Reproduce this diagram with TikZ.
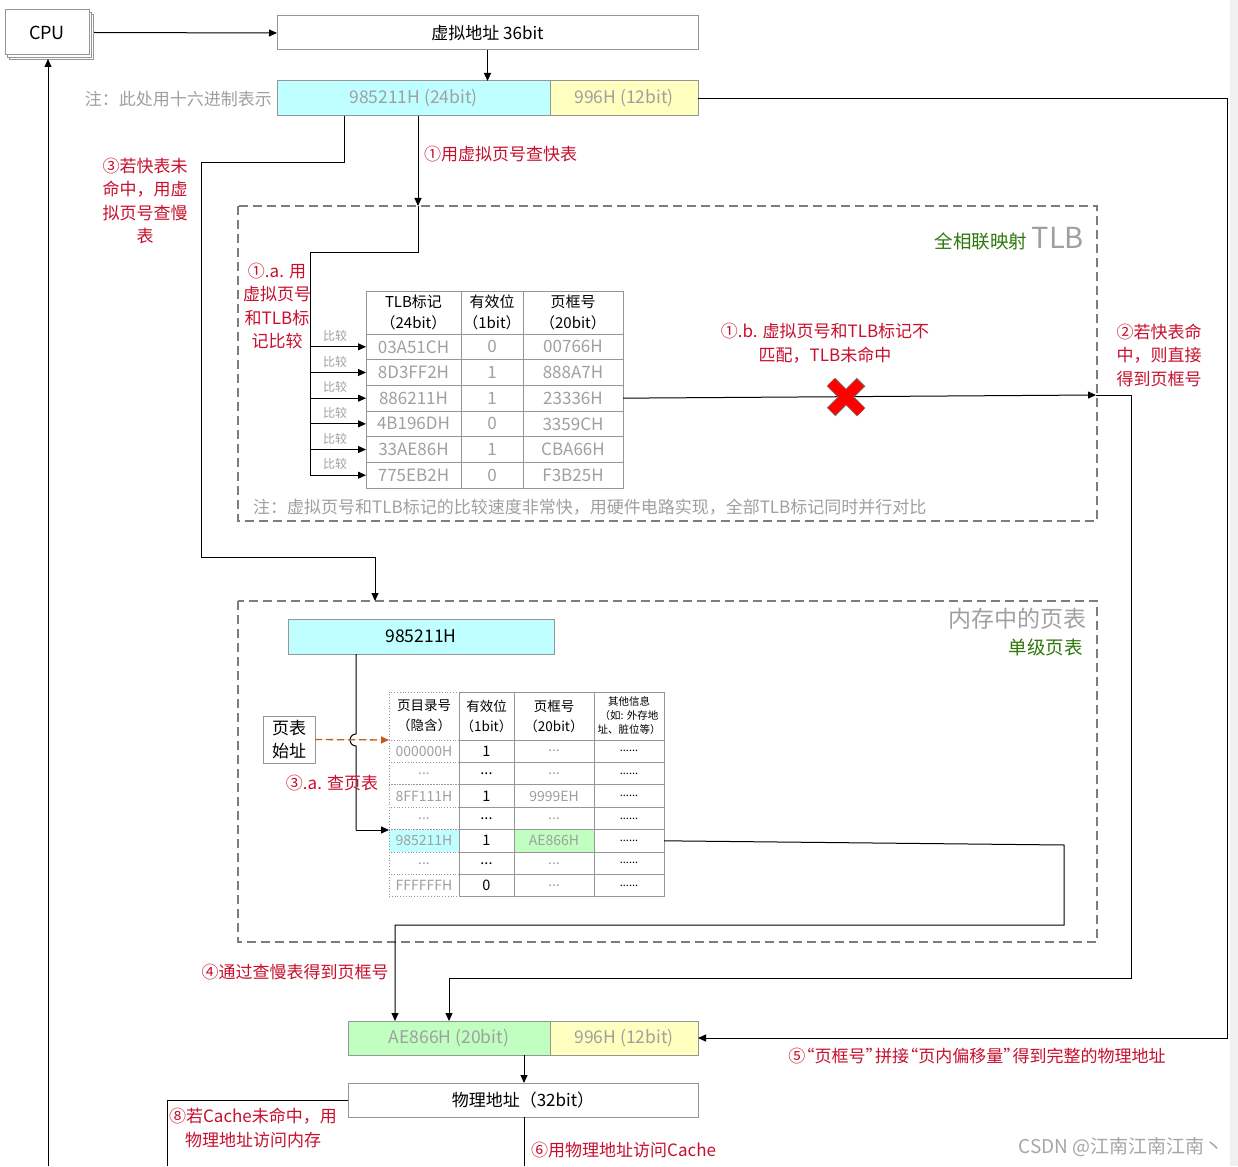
\documentclass[tikz,border=0pt]{standalone}
\usepackage{fontspec}
\setmainfont{Noto Sans CJK SC}
\usetikzlibrary{arrows.meta,calc}
\definecolor{redt}{RGB}{200,16,46}
\definecolor{greent}{RGB}{45,120,10}
\definecolor{grayt}{RGB}{160,160,160}
\definecolor{cyanf}{RGB}{192,255,255}
\definecolor{yellowf}{RGB}{255,255,192}
\definecolor{greenf}{RGB}{192,255,192}
\definecolor{borderg}{RGB}{150,150,150}
\definecolor{dashg}{RGB}{125,125,125}
\definecolor{orangea}{RGB}{200,90,30}
\definecolor{bandg}{RGB}{240,240,240}
\newcommand{\pdots}{...}
\newcommand{\fs}[1]{\fontsize{#1}{#1}\selectfont}
\newcommand{\oqt}{\kern-.45em“}
\newcommand{\cqt}{”\kern-.45em}
\begin{document}
\begin{tikzpicture}[x=1pt,y=-1pt,
  box/.style={draw=borderg, line width=1pt, inner sep=0pt, outer sep=0pt, font=\fs{17}},
  cell/.style={draw=borderg, line width=0.8pt, inner sep=0pt, outer sep=0pt, align=center, text=grayt},
  dcell/.style={draw=borderg, line width=0.8pt, dotted, inner sep=0pt, outer sep=0pt, align=center, text=grayt},
  arr/.style={-{Triangle[length=8pt,width=7pt]}, line width=1pt},
  ln/.style={line width=1pt},
  lbl/.style={text=redt, font=\fontsize{17}{23.5}\selectfont, align=center, inner sep=0pt},
  note/.style={text=grayt, font=\fs{17}, inner sep=0pt},
  dashbox/.style={draw=dashg, line width=1.8pt, dash pattern=on 9pt off 5pt},
  cmp/.style={text=grayt, font=\fs{12}, inner sep=0pt}]
\useasboundingbox (0,0) rectangle (1238,1166);
\fill[white] (0,0) rectangle (1238,1166);
\fill[bandg] (1230,0) rectangle (1238,1166);

% dashed group boxes
\draw[dashbox] (238,206) rectangle (1097,521);
\draw[dashbox] (238,601) rectangle (1097,942);

% CPU
\draw[draw=borderg, fill=white, line width=0.8pt] (9,14) rectangle (93,59);
\draw[draw=borderg, fill=white, line width=0.8pt] (7,12) rectangle (91,57);
\node[box, fill=white, font=\fs{18}, minimum width=84pt, minimum height=45pt] (cpu) at (47,32.5) {CPU};

% virtual address
\node[box, minimum width=421pt, minimum height=34pt] (va) at (487.5,33) {虚拟地址 36bit};
\node[box, fill=cyanf, text=grayt, font=\fs{17.5}, minimum width=273pt, minimum height=35pt] (vpn) at (413.5,98.5) {985211H (24bit)};
\node[box, fill=yellowf, text=grayt, font=\fs{17.5}, minimum width=148pt, minimum height=35pt] (voff) at (624,98.5) {996H (12bit)};
\node[note, anchor=east] (hexnote) at (272,99) {注：此处用十六进制表示};

\draw[arr] ($(cpu.east)+(5,0)$) -- (va.west);
\coordinate (cpubot) at (48,1166);
\draw[arr, shorten >=4pt] (cpubot) -- (cpubot |- cpu.south);
\draw[arr] (va.south) -- (va.south |- vpn.north);

% step 1: to TLB
\coordinate (s1a) at (418,116);
\coordinate (s1b) at (418,206);
\draw[arr] (s1a) -- (s1b);
\draw[ln] (s1b) -- (418,252) -- (310,252) -- (310,475.2);
\node[lbl, anchor=west] at (424,154) {①用虚拟页号查快表};

% TLB title
\node[inner sep=0pt, anchor=base east, text=grayt, font=\fs{29}] (tlbt) at (1084,248) {TLB};
\node[inner sep=0pt, anchor=base east, text=greent, font=\fs{18.5}] (tlbg) at ($(tlbt.base west)+(-4,0)$) {全相联映射};

% TLB table header
\node[cell, text=black, font=\fontsize{15}{21}\selectfont, minimum width=95pt, minimum height=43pt] (th1) at (413.5,312.5) {TLB标记\\（24bit）};
\node[cell, text=black, font=\fontsize{15}{21}\selectfont, minimum width=62pt, minimum height=43pt] (th2) at (492,312.5) {有效位\\（1bit）};
\node[cell, text=black, font=\fontsize{15}{21}\selectfont, minimum width=100pt, minimum height=43pt] (th3) at (573,312.5) {页框号\\（20bit）};
\foreach \i/\a/\b/\c in {1/03A51CH/0/00766H, 2/8D3FF2H/1/888A7H, 3/886211H/1/23336H, 4/4B196DH/0/3359CH, 5/33AE86H/1/CBA66H, 6/775EB2H/0/F3B25H}{
  \pgfmathsetmacro\yc{334+25.67*(\i-0.5)}
  \node[cell, font=\fs{17}, minimum width=95pt, minimum height=25.67pt] (ta\i) at (413.5,\yc) {\a};
  \node[cell, font=\fs{17}, minimum width=62pt, minimum height=25.67pt] (tb\i) at (492,\yc) {\b};
  \node[cell, font=\fs{17}, minimum width=100pt, minimum height=25.67pt] (tc\i) at (573,\yc) {\c};
  \draw[arr] (310,\yc) -- (ta\i.west);
  \node[cmp] at (335,\yc-11) {比较};
}
\node[lbl] at (277,306) {①.a. 用\\虚拟页号\\和TLB标\\记比较};
\node[note, anchor=west] at (253,507) {注：虚拟页号和TLB标记的比较速度非常快，用硬件电路实现，全部TLB标记同时并行对比};

% TLB miss line
\coordinate (tlbout) at (1096,395);
\draw[arr] (tc3.east) -- (tlbout);
\node[lbl] at (825,343) {①.b. 虚拟页号和TLB标记不\\匹配，TLB未命中};
\draw[line width=12pt, draw=black!55] (831,382) -- (861,412) (861,382) -- (831,412);
\draw[line width=10pt, draw=red, shorten <=1pt, shorten >=1pt] (831,382) -- (861,412) (861,382) -- (831,412);

% step 2: TLB hit
\coordinate (pfnin2) at (449,1021);
\draw[arr] (tlbout) -- (1131,395) -- (1131,978) -- (449,978) -- (pfnin2);
\node[lbl] at (1159,355) {②若快表命\\中，则直接\\得到页框号};

% step 3: page table
\coordinate (s3a) at (344,116);
\coordinate (s3b) at (375,601);
\draw[arr] (s3a) -- (344,163) -- (201,163) -- (201,557) -- (375,557) -- (s3b);
\node[lbl] at (145,201) {③若快表未\\命中，用虚\\拟页号查慢\\表};

\node[inner sep=0pt, anchor=east, text=grayt, font=\fs{23}] (ptt) at (1087,619) {内存中的页表};
\node[inner sep=0pt, anchor=east, text=greent, font=\fs{18.5}] (ptg) at (1083,647) {单级页表};

\node[box, fill=cyanf, font=\fs{17.5}, minimum width=266pt, minimum height=35pt] (pvpn) at (421,636.5) {985211H};
\node[box, align=center, font=\fontsize{17}{23}\selectfont, minimum width=52pt, minimum height=47pt] (ptbase) at (289,739.5) {页表\\始址};

% page table header
\node[dcell, text=black, font=\fontsize{13.5}{20}\selectfont, minimum width=70pt, minimum height=48pt] (ph1) at (424,716) {页目录号\\（隐含）};
\node[cell, text=black, font=\fontsize{13.5}{20}\selectfont, minimum width=55pt, minimum height=48pt] (ph2) at (486.5,716) {有效位\\（1bit）};
\node[cell, text=black, font=\fontsize{13.5}{20}\selectfont, minimum width=80pt, minimum height=48pt] (ph3) at (554,716) {页框号\\（20bit）};
\node[cell, text=black, font=\fontsize{10.5}{14}\selectfont, minimum width=70pt, minimum height=48pt] (ph4) at (629,716) {其他信息\\（如: 外存地\\址、脏位等）};
\foreach \i/\a/\b/\c/\fa/\fc in {1/000000H/1/\pdots/white/white, 2/\pdots/\pdots/\pdots/white/white, 3/8FF111H/1/9999EH/white/white, 4/\pdots/\pdots/\pdots/white/white, 5/985211H/1/AE866H/cyanf/greenf, 6/\pdots/\pdots/\pdots/white/white, 7/FFFFFFH/0/\pdots/white/white}{
  \pgfmathsetmacro\yc{740+22.4*(\i-0.5)}
  \node[dcell, fill=\fa, font=\fs{14}, minimum width=70pt, minimum height=22.4pt] (pa\i) at (424,\yc) {\a};
  \node[cell, text=black, font=\fs{14.5}, minimum width=55pt, minimum height=22.4pt] (pb\i) at (486.5,\yc) {\b};
  \node[cell, fill=\fc, font=\fs{14}, minimum width=80pt, minimum height=22.4pt] (pc\i) at (554,\yc) {\c};
  \node[cell, text=black, font=\fs{11}, minimum width=70pt, minimum height=22.4pt] (pd\i) at (629,\yc) {......};
}
% redraw highlighted cell on top
\node[cell, fill=greenf, font=\fs{14}, minimum width=80pt, minimum height=22.4pt] at (pc5) {AE866H};

% lookup arrow with hop
\coordinate (hop) at (356,740);
\draw[ln] (pvpn.south -| hop) -- ($(hop)+(0,-6)$) arc[start angle=-90, end angle=-270, radius=6] -- (356,830);
\draw[arr] (356,830) -- (389,830);
\draw[-{Triangle[length=8pt,width=7pt]}, draw=orangea, fill=orangea, line width=1.3pt, dash pattern=on 7pt off 4pt] (ptbase.east) -- (389,740);
\node[lbl] at (332,783) {③.a. 查页表};

% step 4
\coordinate (pfnin4) at (395,1021);
\draw[arr] (pd5.east) -- (1064,845) -- (1064,925) -- (395,925) -- (pfnin4);
\node[lbl] at (295,972) {④通过查慢表得到页框号};

% physical address
\node[box, fill=greenf, text=grayt, font=\fs{17.5}, minimum width=202pt, minimum height=34pt] (ppfn) at (449,1038) {AE866H (20bit)};
\node[box, fill=yellowf, text=grayt, font=\fs{17.5}, minimum width=148pt, minimum height=34pt] (poff) at (624,1038) {996H (12bit)};
\node[box, minimum width=350pt, minimum height=34pt] (pa) at (523,1100) {物理地址（32bit）};

% step 5: offset
\draw[arr] (voff.east) -- (1227,98.5) -- (1227,1038) -- (poff.east);
\node[lbl] at (977,1056) {⑤\oqt 页框号\cqt 拼接\oqt 页内偏移量\cqt 得到完整的物理地址};

\coordinate (pajoin) at (524,1055);
\draw[arr] (pajoin) -- (pajoin |- pa.north);
\coordinate (cacheend) at (524,1166);
\draw[ln] (pa.south -| cacheend) -- (cacheend);
\node[lbl, anchor=west] at (531,1150) {⑥用物理地址访问Cache};
\coordinate (memend) at (167,1166);
\draw[ln] (pa.west) -- (167,1100) -- (memend);
\node[lbl] at (253,1128) {⑧若Cache未命中，用\\物理地址访问内存};

\node[inner sep=0pt, anchor=east, text=black!35, font=\fs{19}] (csdn) at (1224,1147) {CSDN @江南江南江南丶};
\end{tikzpicture}
\end{document}
